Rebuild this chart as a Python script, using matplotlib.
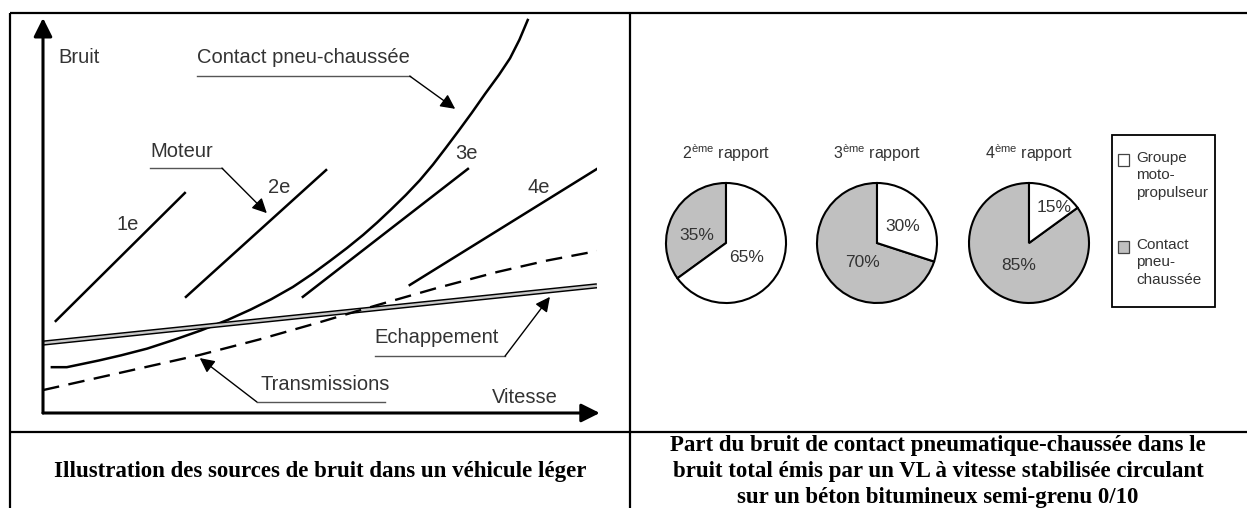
import matplotlib
matplotlib.use("Agg")
import matplotlib.pyplot as plt
from matplotlib.patches import Rectangle

plt.rcParams['font.family'] = ['Liberation Sans', 'DejaVu Sans']
plt.rcParams['mathtext.fontset'] = 'custom'
plt.rcParams['mathtext.rm'] = 'Liberation Sans'

# ---- data: left diagram (speed / noise, arbitrary units 0..100) ----
gear_labels = ['1e', '2e', '3e', '4e']
gear_x = [[2.3, 25.6], [25.8, 51.1], [46.9, 76.7], [66.2, 100.0]]
gear_y = [[23.3, 55.7], [29.4, 61.5], [29.4, 61.8], [32.4, 61.8]]
gear_label_pos = [(15.2, 47.8), (42.6, 57.0), (76.5, 65.8), (89.4, 57.0)]

# pneu-chaussée curve
tyre_x = [1.6, 4.3, 6.7, 10.1, 14.1, 18.8, 23.6, 28.5, 33.4, 37.5, 41.2,
          45.1, 48.6, 51.8, 54.9, 57.8, 60.3, 62.8, 65.5, 68.0, 70.4,
          72.7, 75.0, 77.4, 79.8, 82.3, 84.3, 86.0, 87.5]
tyre_y = [11.6, 11.6, 12.3, 13.3, 14.6, 16.3, 18.5, 20.9, 23.6, 26.2, 28.8,
          31.9, 35.2, 38.5, 41.8, 45.1, 48.2, 51.5, 55.2, 58.9, 62.9,
          67.1, 71.4, 76.0, 80.8, 85.6, 89.8, 94.5, 99.5]

exhaust_x = [0.0, 100.0]
exhaust_y = [17.7, 32.2]

trans_x = [0.0, 14.0, 28.3, 39.0, 50.0, 60.3, 71.0, 82.0, 91.0, 100.0]
trans_y = [5.8, 10.2, 14.7, 18.6, 23.0, 27.3, 31.6, 35.7, 38.6, 41.0]

# ---- data: pies ----
pie_titles = ['2', '3', '4']
contact_share = [35, 70, 85]
groupe_share = [65, 30, 15]
legend_labels = ['Groupe\nmoto-\npropulseur', 'Contact\npneu-\nchaussée']
grey = '#c0c0c0'
txt = '#333333'

W, H = 1247, 508
fig = plt.figure(figsize=(W / 100, H / 100), dpi=100)

# background / table
bg = fig.add_axes([0, 0, 1, 1])
bg.set_xlim(0, W)
bg.set_ylim(H, 0)
bg.axis('off')
for xs, ys in [([10, W], [13, 13]), ([10, W], [432, 432]),
               ([10, 10], [13, H]), ([630, 630], [13, H])]:
    bg.plot(xs, ys, color='black', lw=1.6, solid_capstyle='butt')

cap = dict(family='Liberation Serif', weight='bold', fontsize=16.5,
           ha='center', va='center', color='black')
bg.text(320, 472, 'Illustration des sources de bruit dans un véhicule léger', **cap)
bg.text(938, 445, 'Part du bruit de contact pneumatique-chaussée dans le', **cap)
bg.text(938, 471, 'bruit total émis par un VL à vitesse stabilisée circulant', **cap)
bg.text(938, 498, 'sur un béton bitumineux semi-grenu 0/10', **cap)

# legend box
bg.add_patch(Rectangle((1112, 135), 103, 172, fill=False, ec='black', lw=1.3))
for (yy, lab, fc) in [(160, legend_labels[0], 'white'), (247, legend_labels[1], grey)]:
    bg.add_patch(Rectangle((1118, yy - 6), 11, 12, fc=fc, ec='#444444', lw=0.9))
    bg.text(1136, yy - 9, lab, fontsize=11, color=txt, va='top', ha='left',
            linespacing=1.3)

# ---- left diagram ----
x0, x1, ytop, ybot = 43, 597, 18, 413
ax = fig.add_axes([x0 / W, 1 - ybot / H, (x1 - x0) / W, (ybot - ytop) / H])
ax.set_xlim(0, 100)
ax.set_ylim(0, 100)
ax.axis('off')

ap = dict(arrowstyle='-|>', color='black', lw=2.2, mutation_scale=28,
          shrinkA=0, shrinkB=0)
ax.annotate('', xy=(0, 100), xytext=(0, 0), arrowprops=ap, annotation_clip=False)
ax.annotate('', xy=(100.5, 0), xytext=(0, 0), arrowprops=ap, annotation_clip=False)

for gx, gy, lab, pos in zip(gear_x, gear_y, gear_labels, gear_label_pos):
    ax.plot(gx, gy, color='black', lw=1.8)
    ax.text(pos[0], pos[1], lab, fontsize=14.5, color=txt, ha='center', va='center')

ax.plot(tyre_x, tyre_y, color='black', lw=1.8, clip_on=False)
ax.plot(exhaust_x, exhaust_y, color='black', lw=3.8, solid_capstyle='butt')
ax.plot(exhaust_x, exhaust_y, color='#c8c8c8', lw=1.7, solid_capstyle='butt')
ax.plot(trans_x, trans_y, color='black', lw=1.7, dashes=(7, 4))

lab_kw = dict(fontsize=14.5, color=txt, ha='left', va='center')
ax.text(2.7, 90.1, 'Bruit', **lab_kw)
ax.text(87.0, 3.8, 'Vitesse', fontsize=14.5, color=txt, ha='center', va='center')

lead = dict(color='#555555', lw=1.0)
hap = dict(arrowstyle='-|>', color='black', lw=1.0, mutation_scale=22,
           shrinkA=0, shrinkB=0)


def callout(text, tx, ty, ux1, uy, tip):
    ax.text(tx, ty, text, **lab_kw)
    ax.plot([tx, ux1], [uy, uy], **lead)
    ax.annotate('', xy=tip, xytext=(ux1, uy), arrowprops=hap)


callout('Contact pneu-chaussée', 27.8, 90.1, 66.2, 85.3, (74.4, 77.0))
callout('Moteur', 19.3, 66.1, 32.3, 62.0, (40.4, 50.6))
callout('Echappement', 59.9, 19.0, 83.4, 14.4, (91.5, 29.4))
# transmissions: leader starts at left end of underline
ax.text(39.2, 7.1, 'Transmissions', **lab_kw)
ax.plot([38.6, 61.7], [2.8, 2.8], **lead)
ax.annotate('', xy=(28.3, 13.9), xytext=(38.6, 2.8), arrowprops=hap)

# ---- pies ----
centers = [726, 877, 1029]
cy, r = 243, 60
lab_pos = [[(-0.48, 0.13), (0.35, -0.25)],
           [(-0.25, -0.33), (0.43, 0.27)],
           [(-0.18, -0.37), (0.42, 0.60)]]
for cx, t, c, g, lp in zip(centers, pie_titles, contact_share, groupe_share, lab_pos):
    half = r * 1.1
    pa = fig.add_axes([(cx - half) / W, 1 - (cy + half) / H, 2 * half / W, 2 * half / H])
    pa.pie([c, g], colors=[grey, 'white'], startangle=90,
           wedgeprops=dict(edgecolor='black', linewidth=1.5))
    pa.set_xlim(-1.1, 1.1)
    pa.set_ylim(-1.1, 1.1)
    pa.text(lp[0][0], lp[0][1], f'{c}%', fontsize=12.5, color=txt, ha='center', va='center')
    pa.text(lp[1][0], lp[1][1], f'{g}%', fontsize=12.5, color=txt, ha='center', va='center')
    bg.text(cx, 153, t + r'$^{\rm ème}$ rapport', fontsize=11.5, color=txt,
            ha='center', va='center')

fig.savefig('out.png', dpi=100)
